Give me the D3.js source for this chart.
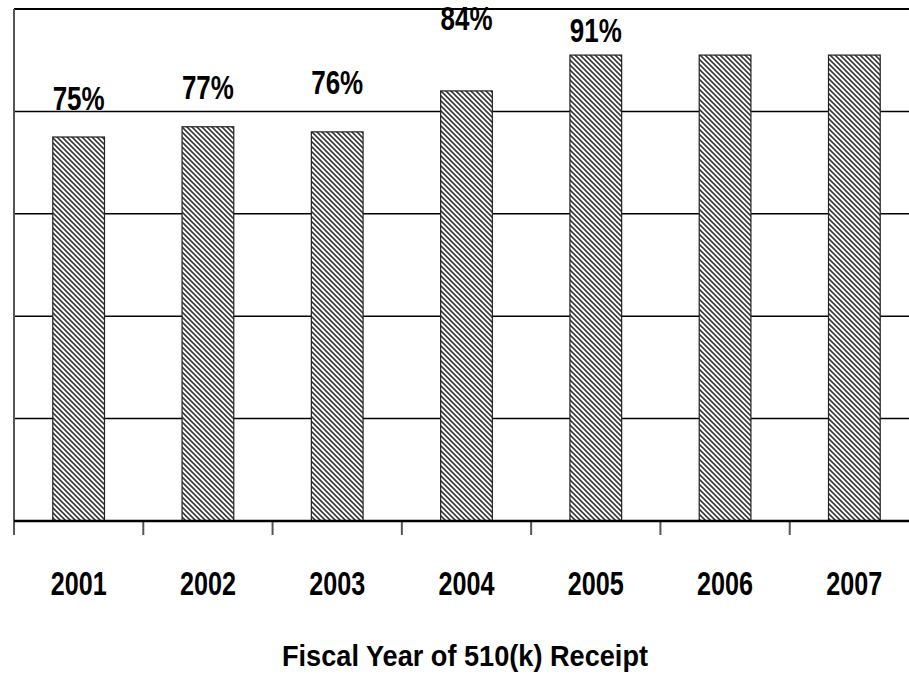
<!DOCTYPE html>
<html>
<head>
<meta charset="utf-8">
<script src="https://cdn.jsdelivr.net/npm/d3@7"></script>
<style>
  html, body { margin: 0; padding: 0; background: #fff; overflow: hidden; }
  svg { display: block; }
  text { font-family: "Liberation Sans", Arial, sans-serif; font-weight: bold; fill: #000; }
</style>
</head>
<body>
<svg id="chart" width="909" height="682"></svg>
<script>
// Share of 510(k) submissions by fiscal year of receipt
const years = ["2001", "2002", "2003", "2004", "2005", "2006", "2007"];
const percent = [75, 77, 76, 84, 91, 91, 91];
const valueLabels = ["75%", "77%", "76%", "84%", "91%", "", ""];
const yTicks = [0, 20, 40, 60, 80, 100];
// vertical gap between label baseline and bar top, per bar
const labelLift = [27, 28, 38, 61, 13, 0, 0];

const svg = d3.select("#chart");
const margin = { left: 14, top: 9 };
const plotW = 905, plotH = 512;

const x = d3.scaleBand()
  .domain(years)
  .range([margin.left, margin.left + plotW])
  .paddingInner(0.6)
  .paddingOuter(0.3);

const y = d3.scaleLinear()
  .domain([0, 100])
  .range([margin.top + plotH, margin.top]);

// condensed bold text: squeeze glyphs into a fixed width
function narrow(sel, size, width) {
  sel.attr("font-size", size)
    .attr("lengthAdjust", "spacingAndGlyphs")
    .attr("textLength", function () {
      return this.textContent ? width : null;
    });
}

// diagonal hatch fill
const defs = svg.append("defs");
const pat = defs.append("pattern")
  .attr("id", "hatch")
  .attr("patternUnits", "userSpaceOnUse")
  .attr("width", 5).attr("height", 5);
pat.append("rect").attr("width", 5).attr("height", 5).attr("fill", "#fff");
pat.append("path")
  .attr("d", "M-1,-1L6,6M-1,4L1,6M4,-1L6,1")
  .attr("stroke", "#3a3a3a")
  .attr("stroke-width", 1.6);

// horizontal gridlines
svg.append("g")
  .selectAll("line")
  .data(yTicks.filter(d => d > 0 && d < 100))
  .join("line")
  .attr("x1", margin.left).attr("x2", margin.left + plotW)
  .attr("y1", d => y(d)).attr("y2", d => y(d))
  .attr("stroke", "#000").attr("stroke-width", 1.5);

// top border
svg.append("line")
  .attr("x1", margin.left).attr("x2", margin.left + plotW)
  .attr("y1", y(100)).attr("y2", y(100))
  .attr("stroke", "#000").attr("stroke-width", 2);

// bars
svg.append("g")
  .selectAll("rect")
  .data(years)
  .join("rect")
  .attr("x", d => x(d))
  .attr("width", x.bandwidth())
  .attr("y", (d, i) => y(percent[i]))
  .attr("height", (d, i) => y(0) - y(percent[i]))
  .attr("fill", "url(#hatch)")
  .attr("stroke", "#222")
  .attr("stroke-width", 1.2);

// left axis line
svg.append("line")
  .attr("x1", margin.left).attr("x2", margin.left)
  .attr("y1", y(100)).attr("y2", y(0) + 14)
  .attr("stroke", "#555").attr("stroke-width", 2);

// category boundary ticks
const gap = x.step() * x.paddingInner() / 2;
svg.append("g")
  .selectAll("line")
  .data(years)
  .join("line")
  .attr("x1", d => x(d) + x.bandwidth() + gap)
  .attr("x2", d => x(d) + x.bandwidth() + gap)
  .attr("y1", y(0)).attr("y2", y(0) + 14)
  .attr("stroke", "#555").attr("stroke-width", 2);

// baseline
svg.append("line")
  .attr("x1", margin.left).attr("x2", margin.left + plotW)
  .attr("y1", y(0)).attr("y2", y(0))
  .attr("stroke", "#000").attr("stroke-width", 2.5);

// value labels
svg.append("g")
  .selectAll("text")
  .data(years)
  .join("text")
  .attr("x", d => x(d) + x.bandwidth() / 2)
  .attr("y", (d, i) => y(percent[i]) - labelLift[i])
  .attr("text-anchor", "middle")
  .text((d, i) => valueLabels[i])
  .call(narrow, 33, 52);

// category labels
svg.append("g")
  .selectAll("text")
  .data(years)
  .join("text")
  .attr("x", d => x(d) + x.bandwidth() / 2)
  .attr("y", 595)
  .attr("text-anchor", "middle")
  .text(d => d)
  .call(narrow, 34, 56);

// axis title
svg.append("text")
  .attr("x", 465)
  .attr("y", 666)
  .attr("text-anchor", "middle")
  .text("Fiscal Year of 510(k) Receipt")
  .call(narrow, 30, 366);
</script>
</body>
</html>
